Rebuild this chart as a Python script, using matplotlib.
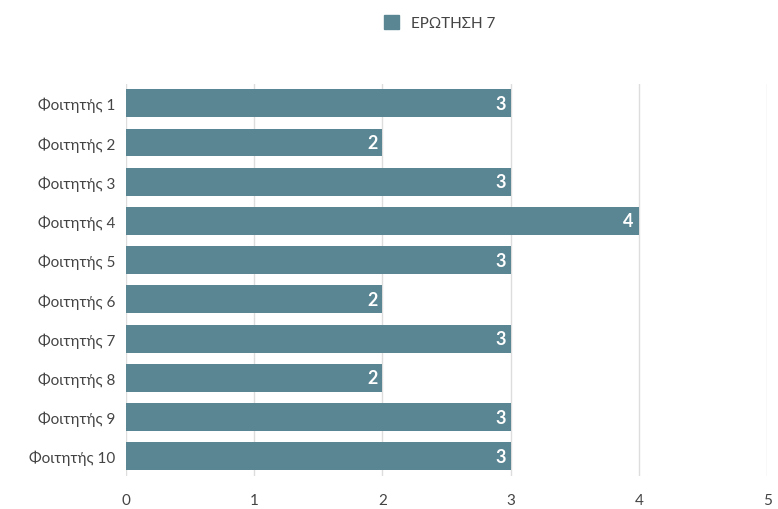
import matplotlib
matplotlib.use('Agg')
import matplotlib.pyplot as plt
from matplotlib.patches import Patch

plt.rcParams['font.family'] = ['Lato', 'DejaVu Sans']

students = ['Φοιτητής 1', 'Φοιτητής 2', 'Φοιτητής 3', 'Φοιτητής 4', 'Φοιτητής 5',
            'Φοιτητής 6', 'Φοιτητής 7', 'Φοιτητής 8', 'Φοιτητής 9', 'Φοιτητής 10']
scores = [3, 2, 3, 4, 3, 2, 3, 2, 3, 3]
series_name = 'ΕΡΩΤΗΣΗ 7'
bar_color = '#5a8592'

fig = plt.figure(figsize=(7.78, 5.10), dpi=100)
ax = fig.add_axes([0.162, 0.065, 0.824, 0.769])

y = list(range(len(students)))
bars = ax.barh(y, scores, height=0.71, color=bar_color, zorder=2)
for b, v in zip(bars, scores):
    ax.text(b.get_width() - 0.04, b.get_y() + b.get_height() / 2, str(v),
            ha='right', va='center', color='white', fontsize=13, fontweight='bold', zorder=3)

ax.set_yticks(y)
ax.set_yticklabels(students, fontsize=11, color='#444444')
ax.invert_yaxis()
ax.set_ylim(len(students) - 0.5, -0.5)
ax.set_xlim(0, 5)
ax.set_xticks([0, 1, 2, 3, 4, 5])
ax.tick_params(axis='x', labelsize=11, colors='#444444', length=0, pad=12)
ax.tick_params(axis='y', length=0, pad=8)
ax.grid(axis='x', color='#dddddd', linewidth=1, zorder=0)
for s in ax.spines.values():
    s.set_visible(False)

fig.legend(handles=[Patch(color=bar_color)], labels=[series_name], loc='upper center',
           bbox_to_anchor=(0.565, 0.995), frameon=False, fontsize=11,
           handlelength=1.0, handleheight=1.0, labelcolor='#444444')

plt.savefig('out.png', dpi=100)
